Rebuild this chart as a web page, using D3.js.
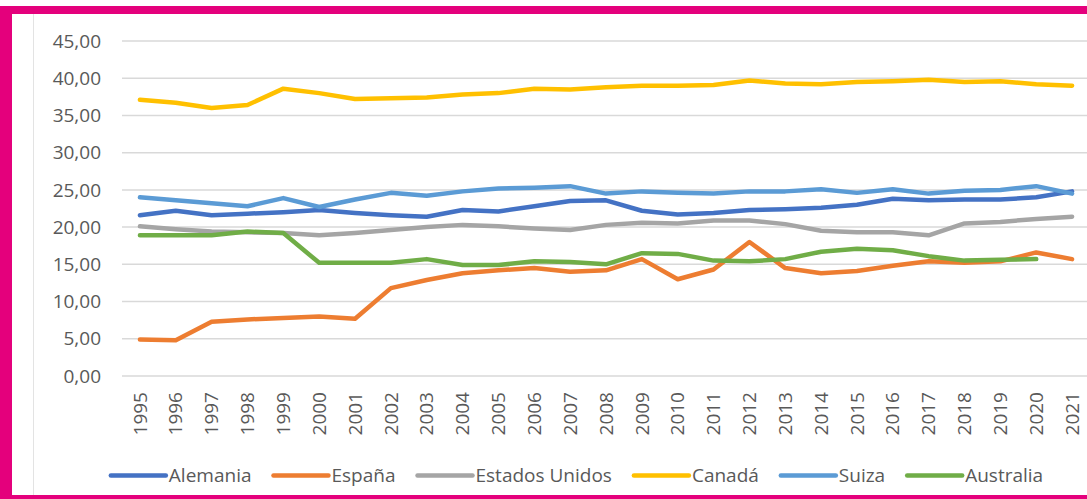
<!DOCTYPE html>
<html>
<head>
<meta charset="utf-8">
<script src="https://cdn.jsdelivr.net/npm/d3@7"></script>
<style>
  html, body { margin: 0; padding: 0; background: #fff; }
  svg { display: block; }
  text { font-family: "Open Sans", "Noto Sans", sans-serif; fill: #595959; }
</style>
</head>
<body>
<svg id="chart"></svg>
<script>
// Datos
const years = d3.range(1995, 2022).map(String);
const yTicks = [0, 5, 10, 15, 20, 25, 30, 35, 40, 45];

const alemania = [21.6, 22.2, 21.6, 21.8, 22.0, 22.3, 21.9, 21.6, 21.4, 22.3, 22.1, 22.8, 23.5, 23.6, 22.2, 21.7, 21.9, 22.3, 22.4, 22.6, 23.0, 23.8, 23.6, 23.7, 23.7, 24.0, 24.8];
const espana = [4.9, 4.8, 7.3, 7.6, 7.8, 8.0, 7.7, 11.8, 12.9, 13.8, 14.2, 14.5, 14.0, 14.2, 15.7, 13.0, 14.3, 18.0, 14.5, 13.8, 14.1, 14.8, 15.4, 15.2, 15.4, 16.6, 15.7];
const estadosUnidos = [20.1, 19.7, 19.4, 19.3, 19.2, 18.9, 19.2, 19.6, 20.0, 20.3, 20.1, 19.8, 19.6, 20.3, 20.6, 20.5, 20.9, 20.9, 20.4, 19.5, 19.3, 19.3, 18.9, 20.5, 20.7, 21.1, 21.4];
const canada = [37.1, 36.7, 36.0, 36.4, 38.6, 38.0, 37.2, 37.3, 37.4, 37.8, 38.0, 38.6, 38.5, 38.8, 39.0, 39.0, 39.1, 39.7, 39.3, 39.2, 39.5, 39.6, 39.8, 39.5, 39.6, 39.2, 39.0];
const suiza = [24.0, 23.6, 23.2, 22.8, 23.9, 22.7, 23.7, 24.6, 24.2, 24.8, 25.2, 25.3, 25.5, 24.5, 24.8, 24.6, 24.5, 24.8, 24.8, 25.1, 24.6, 25.1, 24.5, 24.9, 25.0, 25.5, 24.5];
const australia = [18.9, 18.9, 18.9, 19.4, 19.2, 15.2, 15.2, 15.2, 15.7, 14.9, 14.9, 15.4, 15.3, 15.0, 16.5, 16.4, 15.5, 15.4, 15.7, 16.7, 17.1, 16.9, 16.1, 15.5, 15.6, 15.7, null];

const seriesNames = ["Alemania", "España", "Estados Unidos", "Canadá", "Suiza", "Australia"];
const seriesValues = [alemania, espana, estadosUnidos, canada, suiza, australia];
const seriesColors = ["#4472C4", "#ED7D31", "#A5A5A5", "#FFC000", "#5B9BD5", "#70AD47"];

// Dimensiones
const width = 1087;
const height = 499;
const plot = {left: 122, right: 1090, top: 41, bottom: 376};
const pink = "#E4007C";

const svg = d3.select("#chart")
  .attr("width", width)
  .attr("height", height);

// Marco rosa
svg.append("rect").attr("x", 0).attr("y", 6).attr("width", width).attr("height", 8).attr("fill", pink);
svg.append("rect").attr("x", 0).attr("y", 6).attr("width", 12).attr("height", height - 6).attr("fill", pink);
svg.append("rect").attr("x", 0).attr("y", 495).attr("width", width).attr("height", 4).attr("fill", pink);
svg.append("line")
  .attr("x1", 33.5).attr("x2", 33.5).attr("y1", 14).attr("y2", 495)
  .attr("stroke", "#e3e3e3").attr("stroke-width", 1);

// Escalas
const x = d3.scaleBand().domain(years).range([plot.left, plot.right]);
const y = d3.scaleLinear().domain([0, 45]).range([plot.bottom, plot.top]);

// Líneas de cuadrícula
svg.append("g")
  .selectAll("line")
  .data(yTicks)
  .enter()
  .append("line")
  .attr("x1", plot.left)
  .attr("x2", width)
  .attr("y1", d => y(d))
  .attr("y2", d => y(d))
  .attr("stroke", "#d9d9d9")
  .attr("stroke-width", 1.5);

// Eje Y
const fmt = d => d.toFixed(2).replace(".", ",");
svg.append("g")
  .selectAll("text")
  .data(yTicks)
  .enter()
  .append("text")
  .attr("x", 101)
  .attr("y", d => y(d))
  .attr("dy", "0.35em")
  .attr("text-anchor", "end")
  .attr("font-size", "19px")
  .text(fmt);

// Eje X (etiquetas verticales)
svg.append("g")
  .selectAll("text")
  .data(years)
  .enter()
  .append("text")
  .attr("transform", d => "translate(" + (x(d) + x.bandwidth() / 2) + ",392) rotate(-90)")
  .attr("dy", "0.35em")
  .attr("text-anchor", "end")
  .attr("font-size", "19px")
  .text(d => d);

// Series
const line = d3.line()
  .defined(d => d.v != null)
  .x(d => x(d.year) + x.bandwidth() / 2)
  .y(d => y(d.v));

seriesValues.forEach((vals, i) => {
  const data = vals.map((v, j) => ({year: years[j], v: v}));
  svg.append("path")
    .datum(data)
    .attr("fill", "none")
    .attr("stroke", seriesColors[i])
    .attr("stroke-width", 4.5)
    .attr("stroke-linejoin", "round")
    .attr("stroke-linecap", "round")
    .attr("d", line);
});

// Leyenda
const legendY = 475.5;
const lineLen = 55;
const legend = svg.append("g");
let cursor = 0;
seriesNames.forEach((name, i) => {
  const g = legend.append("g").attr("transform", "translate(" + cursor + ",0)");
  g.append("line")
    .attr("x1", 0).attr("x2", lineLen)
    .attr("y1", legendY).attr("y2", legendY)
    .attr("stroke", seriesColors[i])
    .attr("stroke-width", 4.5)
    .attr("stroke-linecap", "round");
  const t = g.append("text")
    .attr("x", lineLen + 3)
    .attr("y", legendY)
    .attr("dy", "0.35em")
    .attr("font-size", "19px")
    .text(name);
  cursor += lineLen + 3 + t.node().getComputedTextLength() + 22;
});
const legendWidth = cursor - 22;
legend.attr("transform", "translate(" + (577 - legendWidth / 2) + ",0)");
</script>
</body>
</html>
